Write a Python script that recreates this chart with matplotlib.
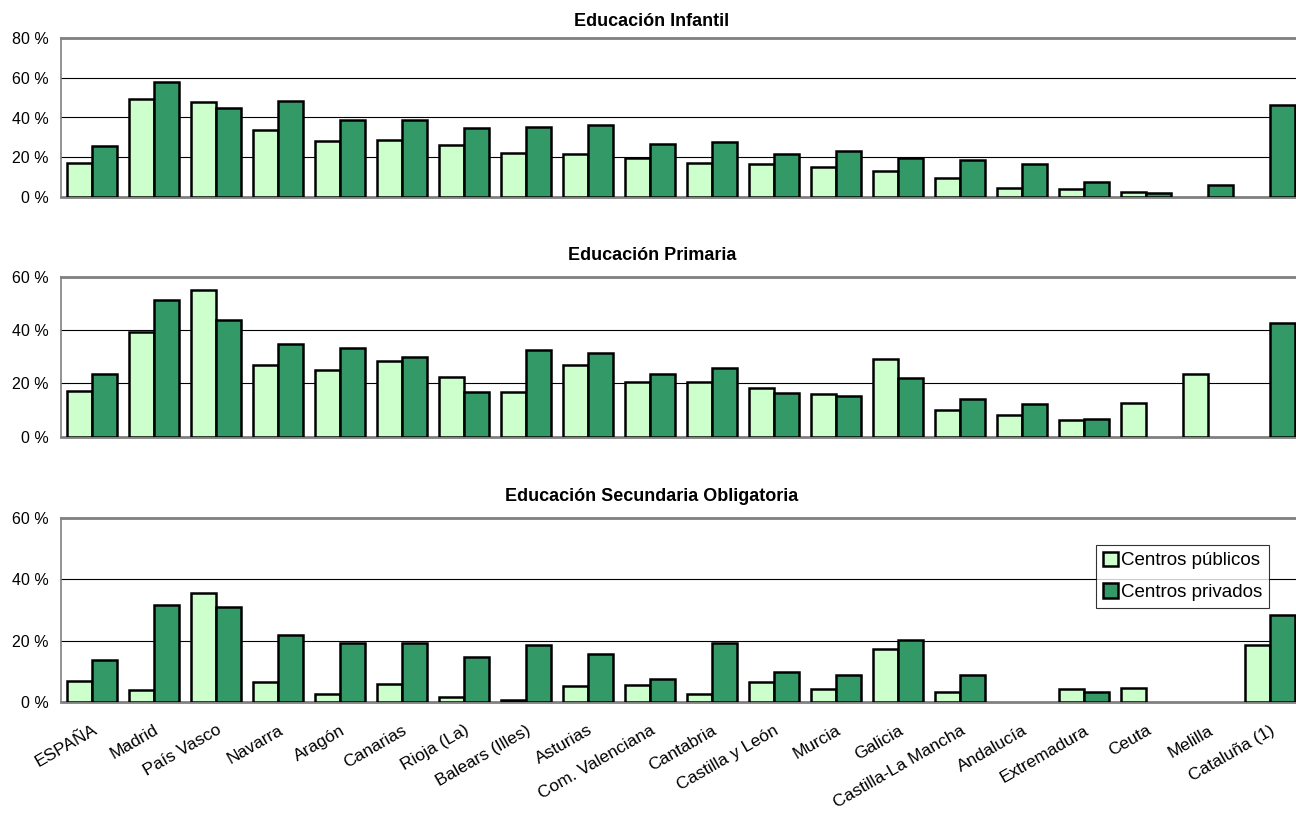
import matplotlib
matplotlib.use("Agg")
import matplotlib.pyplot as plt
import matplotlib.ticker as ticker
import numpy as np

plt.rcParams['font.family'] = ['Liberation Sans', 'DejaVu Sans']

regions = ["ESPAÑA", "Madrid", "País Vasco", "Navarra", "Aragón", "Canarias",
           "Rioja (La)", "Balears (Illes)", "Asturias", "Com. Valenciana",
           "Cantabria", "Castilla y León", "Murcia", "Galicia",
           "Castilla-La Mancha", "Andalucía", "Extremadura", "Ceuta",
           "Melilla", "Cataluña (1)"]

nan = np.nan

# Educación Infantil
infantil_pub = [17.3, 49.3, 47.8, 33.7, 28.2, 28.5, 26.2, 22.0, 21.5, 19.8,
                17.2, 16.8, 15.3, 13.2, 9.7, 4.7, 4.0, 2.7, nan, nan]
infantil_priv = [25.8, 57.8, 45.0, 48.2, 38.8, 38.8, 34.5, 35.3, 36.2, 26.7,
                 27.5, 21.7, 23.0, 19.8, 18.8, 16.8, 7.5, 2.0, 6.0, 46.5]

# Educación Primaria
primaria_pub = [17.3, 39.1, 55.1, 27.0, 25.1, 28.5, 22.3, 16.6, 27.0, 20.5,
                20.5, 18.4, 15.9, 29.0, 10.0, 8.3, 6.3, 12.6, 23.5, nan]
primaria_priv = [23.4, 51.3, 43.8, 34.8, 33.3, 29.9, 16.6, 32.5, 31.3, 23.4,
                 25.6, 16.4, 15.4, 21.9, 14.1, 12.4, 6.6, nan, nan, 42.5]

# Educación Secundaria Obligatoria
eso_pub = [6.7, 3.7, 35.4, 6.3, 2.6, 5.7, 1.6, 0.5, 5.1, 5.5,
           2.6, 6.4, 4.0, 17.1, 3.3, nan, 4.0, 4.4, nan, 18.4]
eso_priv = [13.6, 31.5, 31.0, 21.8, 19.2, 19.3, 14.5, 18.4, 15.6, 7.4,
            19.1, 9.7, 8.7, 20.2, 8.7, nan, 3.2, nan, nan, 28.3]

panels = [
    ("Educación Infantil", infantil_pub, infantil_priv, 80),
    ("Educación Primaria", primaria_pub, primaria_priv, 60),
    ("Educación Secundaria Obligatoria", eso_pub, eso_priv, 60),
]

pub_color = "#CCFFCC"
priv_color = "#339966"

W, H = 1296, 814
fig = plt.figure(figsize=(12.96, 8.14), dpi=100)

# axes boxes in pixels: (top, bottom)
boxes = [(37.7, 197.3), (276.7, 436.7), (518.3, 701.7)]
title_y = [22, 255, 496]
left_px, right_px = 61, 1301

x = np.arange(len(regions))
w = 0.403

axes = []
for (title, pub, priv, ymax), (top, bot), ty in zip(panels, boxes, title_y):
    ax = fig.add_axes([left_px / W, 1 - bot / H, (right_px - left_px) / W, (bot - top) / H])
    ax.bar(x - w / 2, pub, w, color=pub_color, edgecolor="black", linewidth=1.8,
           label="Centros públicos", zorder=3)
    ax.bar(x + w / 2, priv, w, color=priv_color, edgecolor="black", linewidth=1.8,
           label="Centros privados", zorder=3)
    ax.set_xlim(-0.5, len(regions) - 0.5)
    ax.set_ylim(0, ymax)
    ax.yaxis.set_major_locator(ticker.MultipleLocator(20))
    ax.yaxis.set_major_formatter(ticker.FuncFormatter(lambda v, _: f"{int(v)} %"))
    ax.grid(axis="y", color="black", linewidth=0.8, zorder=1)
    ax.tick_params(axis="y", length=0, pad=9, labelsize=11.5)
    ax.tick_params(axis="x", length=0)
    for side in ["top", "left", "bottom"]:
        ax.spines[side].set_color("#808080")
    ax.spines["top"].set_linewidth(2)
    ax.spines["bottom"].set_linewidth(2)
    ax.spines["left"].set_linewidth(1.2)
    ax.spines["right"].set_visible(False)
    ax.set_xticks(x)
    ax.set_xticklabels([])
    fig.text(652 / W, 1 - ty / H, title, ha="center", va="center",
             fontsize=13, fontweight="bold")
    axes.append(ax)

# category labels only on the last panel
last = axes[-1]
last.set_xticklabels(regions, rotation=30, ha="right", va="top",
                     rotation_mode="anchor", fontsize=12.5)
last.tick_params(axis="x", pad=15)

leg = last.legend(loc="upper left", bbox_to_anchor=(1096 / W, 1 - 545 / H),
                  bbox_transform=fig.transFigure, borderaxespad=0, fontsize=13.5,
                  frameon=True, fancybox=False, handlelength=0.8, handleheight=0.8,
                  handletextpad=0.2, borderpad=0.35, labelspacing=0.75)
leg.get_frame().set_edgecolor("black")
leg.get_frame().set_linewidth(0.8)

fig.savefig("out.png", dpi=100)
